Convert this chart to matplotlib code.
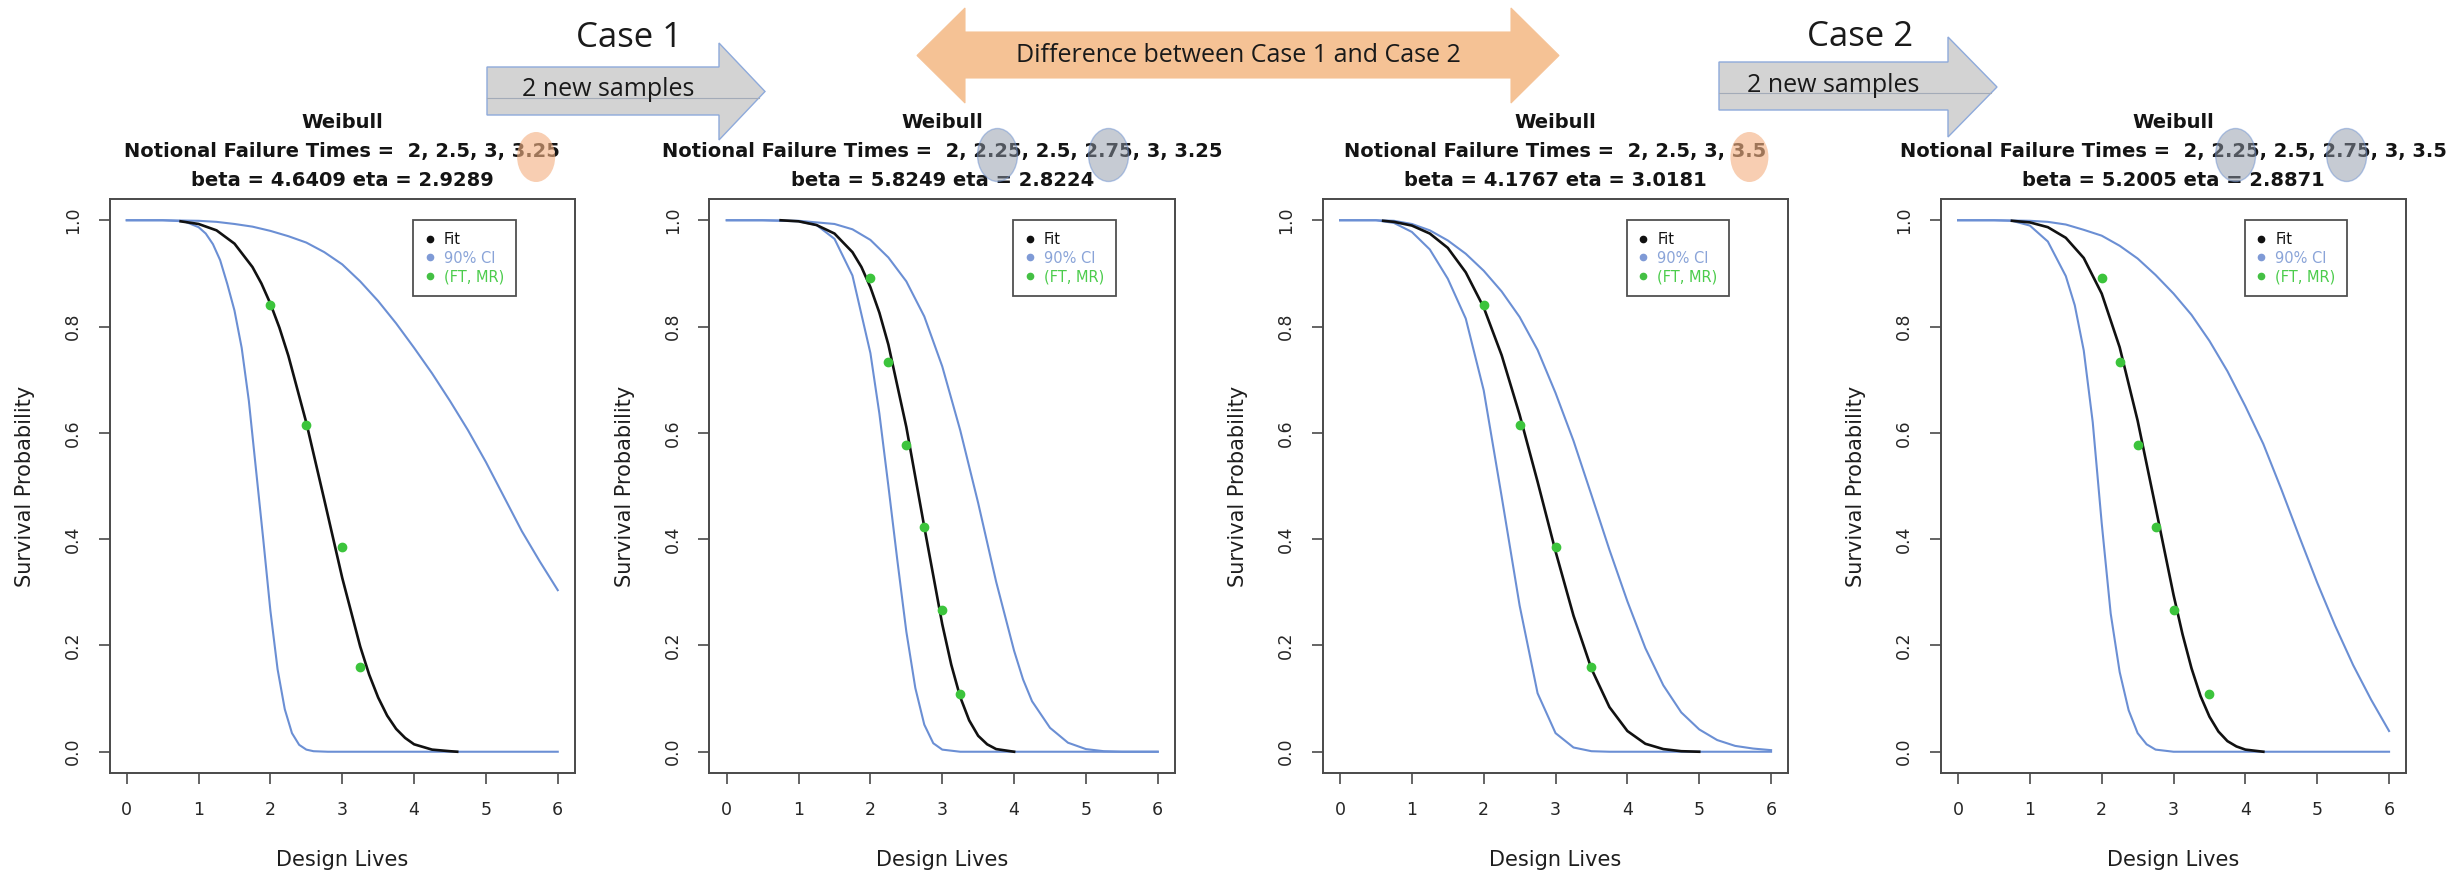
import matplotlib
matplotlib.use("Agg")
import matplotlib.pyplot as plt
from matplotlib.lines import Line2D
from matplotlib.patches import Polygon, Ellipse

plt.rcParams['font.family'] = ['DejaVu Sans']

W, H = 2450, 873

### Data ###

# Case 1, before the new samples
p1_fit_x = [0.75, 1.0, 1.25, 1.5, 1.75, 1.875, 2.0, 2.125, 2.25, 2.5, 2.75, 3.0, 3.25, 3.375, 3.5, 3.625, 3.75, 3.875, 4.0, 4.25, 4.5, 4.6]
p1_fit_s = [0.998, 0.993, 0.981, 0.956, 0.912, 0.881, 0.843, 0.798, 0.745, 0.619, 0.474, 0.327, 0.198, 0.145, 0.102, 0.068, 0.043, 0.026, 0.014, 0.004, 0.001, 0.0]
p1_lo_x = [0, 0.5, 0.8, 1.0, 1.1, 1.2, 1.3, 1.4, 1.5, 1.6, 1.7, 1.8, 1.9, 2.0, 2.1, 2.2, 2.3, 2.4, 2.5, 2.6, 2.8, 6.0]
p1_lo_s = [1.0, 1.0, 0.998, 0.987, 0.975, 0.955, 0.925, 0.88, 0.83, 0.76, 0.66, 0.53, 0.40, 0.265, 0.155, 0.08, 0.035, 0.013, 0.004, 0.001, 0.0, 0.0]
p1_hi_x = [0, 0.5, 1.0, 1.25, 1.5, 1.75, 2.0, 2.25, 2.5, 2.75, 3.0, 3.25, 3.5, 3.75, 4.0, 4.25, 4.5, 4.75, 5.0, 5.25, 5.5, 5.75, 6.0]
p1_hi_s = [1.0, 1.0, 0.999, 0.997, 0.993, 0.988, 0.98, 0.97, 0.958, 0.94, 0.917, 0.885, 0.848, 0.806, 0.76, 0.712, 0.66, 0.605, 0.545, 0.48, 0.415, 0.358, 0.304]
p1_ft = [2, 2.5, 3, 3.25]
p1_mr = [0.841, 0.614, 0.386, 0.159]

# Case 1, after 2 new samples
p2_fit_x = [0.75, 1.0, 1.25, 1.5, 1.75, 1.875, 2.0, 2.125, 2.25, 2.5, 2.75, 3.0, 3.125, 3.25, 3.375, 3.5, 3.625, 3.75, 4.0]
p2_fit_s = [1.0, 0.998, 0.991, 0.975, 0.94, 0.912, 0.874, 0.826, 0.766, 0.611, 0.423, 0.24, 0.164, 0.103, 0.059, 0.030, 0.014, 0.005, 0.0]
p2_lo_x = [0, 0.5, 1.0, 1.25, 1.5, 1.75, 2.0, 2.125, 2.25, 2.375, 2.5, 2.625, 2.75, 2.875, 3.0, 3.25, 6.0]
p2_lo_s = [1.0, 1.0, 0.998, 0.991, 0.965, 0.896, 0.75, 0.636, 0.50, 0.36, 0.226, 0.12, 0.051, 0.016, 0.004, 0.0, 0.0]
p2_hi_x = [0, 0.5, 1.0, 1.5, 1.75, 2.0, 2.25, 2.5, 2.75, 3.0, 3.25, 3.5, 3.75, 4.0, 4.125, 4.25, 4.5, 4.75, 5.0, 5.25, 5.5, 6.0]
p2_hi_s = [1.0, 1.0, 0.999, 0.993, 0.983, 0.963, 0.93, 0.885, 0.819, 0.725, 0.605, 0.468, 0.32, 0.19, 0.136, 0.095, 0.045, 0.017, 0.005, 0.001, 0.0, 0.0]
p2_ft = [2, 2.25, 2.5, 2.75, 3, 3.25]
p2_mr = [0.891, 0.734, 0.578, 0.422, 0.266, 0.109]

# Case 2, before the new samples
p3_fit_x = [0.6, 0.75, 1.0, 1.25, 1.5, 1.75, 2.0, 2.25, 2.5, 2.75, 3.0, 3.25, 3.5, 3.75, 4.0, 4.25, 4.5, 4.75, 5.0]
p3_fit_s = [0.999, 0.997, 0.990, 0.975, 0.948, 0.902, 0.836, 0.746, 0.634, 0.508, 0.377, 0.256, 0.156, 0.084, 0.039, 0.015, 0.005, 0.001, 0.0]
p3_lo_x = [0, 0.5, 0.75, 1.0, 1.25, 1.5, 1.75, 2.0, 2.25, 2.5, 2.75, 3.0, 3.25, 3.5, 3.75, 6.0]
p3_lo_s = [1.0, 1.0, 0.995, 0.978, 0.945, 0.89, 0.815, 0.68, 0.48, 0.275, 0.11, 0.035, 0.008, 0.001, 0.0, 0.0]
p3_hi_x = [0, 0.5, 0.75, 1.0, 1.25, 1.5, 1.75, 2.0, 2.25, 2.5, 2.75, 3.0, 3.25, 3.5, 3.75, 4.0, 4.25, 4.5, 4.75, 5.0, 5.25, 5.5, 5.75, 6.0]
p3_hi_s = [1.0, 1.0, 0.999, 0.993, 0.981, 0.962, 0.937, 0.905, 0.866, 0.818, 0.756, 0.675, 0.585, 0.483, 0.38, 0.283, 0.195, 0.125, 0.074, 0.042, 0.022, 0.011, 0.006, 0.003]
p3_ft = [2, 2.5, 3, 3.5]
p3_mr = [0.841, 0.614, 0.386, 0.159]

# Case 2, after 2 new samples
p4_fit_x = [0.75, 1.0, 1.25, 1.5, 1.75, 2.0, 2.25, 2.5, 2.75, 3.0, 3.125, 3.25, 3.375, 3.5, 3.625, 3.75, 3.875, 4.0, 4.25]
p4_fit_s = [0.999, 0.996, 0.987, 0.967, 0.929, 0.862, 0.761, 0.623, 0.460, 0.295, 0.221, 0.157, 0.105, 0.066, 0.038, 0.020, 0.010, 0.004, 0.0]
p4_lo_x = [0, 0.5, 0.75, 1.0, 1.25, 1.5, 1.625, 1.75, 1.875, 2.0, 2.125, 2.25, 2.375, 2.5, 2.625, 2.75, 3.0, 6.0]
p4_lo_s = [1.0, 1.0, 0.999, 0.99, 0.96, 0.895, 0.84, 0.755, 0.62, 0.43, 0.26, 0.15, 0.078, 0.035, 0.014, 0.004, 0.0, 0.0]
p4_hi_x = [0, 0.5, 1.0, 1.25, 1.5, 1.75, 2.0, 2.25, 2.5, 2.75, 3.0, 3.25, 3.5, 3.75, 4.0, 4.25, 4.5, 4.75, 5.0, 5.25, 5.5, 5.75, 6.0]
p4_hi_s = [1.0, 1.0, 0.999, 0.997, 0.992, 0.982, 0.971, 0.952, 0.928, 0.897, 0.862, 0.822, 0.773, 0.716, 0.65, 0.579, 0.494, 0.405, 0.318, 0.237, 0.163, 0.098, 0.039]
p4_ft = [2, 2.25, 2.5, 2.75, 3, 3.5]
p4_mr = [0.891, 0.734, 0.578, 0.422, 0.266, 0.109]

failure_lines = ["Notional Failure Times =  2, 2.5, 3, 3.25",
                 "Notional Failure Times =  2, 2.25, 2.5, 2.75, 3, 3.25",
                 "Notional Failure Times =  2, 2.5, 3, 3.5",
                 "Notional Failure Times =  2, 2.25, 2.5, 2.75, 3, 3.5"]
param_lines = ["beta = 4.6409 eta = 2.9289",
               "beta = 5.8249 eta = 2.8224",
               "beta = 4.1767 eta = 3.0181",
               "beta = 5.2005 eta = 2.8871"]
# which numbers are circled in each title, and in what colour
highlights = [[("3.25", "orange")],
              [("2.25", "grey"), ("2.75", "grey")],
              [("3.5", "orange")],
              [("2.25", "grey"), ("2.75", "grey")]]

x_ticks = [0, 1, 2, 3, 4, 5, 6]
y_ticks = [0.0, 0.2, 0.4, 0.6, 0.8, 1.0]
legend_labels = ["Fit", "90% CI", "(FT, MR)"]

panels = [
    (p1_fit_x, p1_fit_s, p1_lo_x, p1_lo_s, p1_hi_x, p1_hi_s, p1_ft, p1_mr),
    (p2_fit_x, p2_fit_s, p2_lo_x, p2_lo_s, p2_hi_x, p2_hi_s, p2_ft, p2_mr),
    (p3_fit_x, p3_fit_s, p3_lo_x, p3_lo_s, p3_hi_x, p3_hi_s, p3_ft, p3_mr),
    (p4_fit_x, p4_fit_s, p4_lo_x, p4_lo_s, p4_hi_x, p4_hi_s, p4_ft, p4_mr),
]

### Styling ###
CI_BLUE = '#6b8fd4'
FIT_BLACK = '#111111'
PT_GREEN = '#3cc43c'
FRAME = '#4a4a4a'

box_left_px = [109.5, 709.5, 1322.8, 1940.8]
box_w_px = 465.5
box_top_px, box_bot_px = 199, 773

fig = plt.figure(figsize=(W / 100, H / 100), dpi=100)

for i, (fx, fs, lx, ls, hx, hs, ft, mr) in enumerate(panels):
    ax = fig.add_axes([box_left_px[i] / W, 1 - box_bot_px / H,
                       box_w_px / W, (box_bot_px - box_top_px) / H])
    ax.plot(lx, ls, color=CI_BLUE, lw=1.5)
    ax.plot(hx, hs, color=CI_BLUE, lw=1.5)
    ax.plot(fx, fs, color=FIT_BLACK, lw=1.9)
    ax.plot(ft, mr, ls='none', marker='o', ms=6, color=PT_GREEN, mec=PT_GREEN)

    ax.set_xlim(-0.24, 6.24)
    ax.set_ylim(-0.04, 1.04)
    ax.set_xticks(x_ticks)
    ax.set_xticklabels([str(t) for t in x_ticks])
    ax.set_yticks(y_ticks)
    ax.set_yticklabels([f"{t:.1f}" for t in y_ticks])
    ax.tick_params(direction='out', length=8, width=1.2, colors=FRAME,
                   labelcolor='#262626', labelsize=12.5, pad=12)
    ax.tick_params(axis='y', labelrotation=90)
    for lab in ax.get_yticklabels():
        lab.set_verticalalignment('center')
    for sp in ax.spines.values():
        sp.set_color(FRAME)
        sp.set_linewidth(1.4)

    ax.set_xlabel("Design Lives", fontsize=15, color='#1e1e1e')
    ax.xaxis.set_label_coords(0.5, -(860 - box_bot_px) / (box_bot_px - box_top_px))
    ax.xaxis.label.set_verticalalignment('center')
    ax.set_ylabel("Survival Probability", fontsize=15, color='#1e1e1e')
    ax.yaxis.set_label_coords(-84.5 / box_w_px, 0.5)
    ax.yaxis.label.set_verticalalignment('center')

    handles = [Line2D([], [], ls='none', marker='o', ms=4.5, color=FIT_BLACK),
               Line2D([], [], ls='none', marker='o', ms=4.5, color='#7f9ad6'),
               Line2D([], [], ls='none', marker='o', ms=4.5, color='#44c044')]
    leg = ax.legend(handles, legend_labels, loc='upper left', bbox_to_anchor=(3.99, 1.0),
                    bbox_transform=ax.transData, borderaxespad=0, fontsize=10.5,
                    fancybox=False, framealpha=1, edgecolor='#505050',
                    handlelength=0.7, handletextpad=0.6, borderpad=0.8, labelspacing=0.25)
    leg.get_frame().set_linewidth(1.3)
    for txt, c in zip(leg.get_texts(), ['#111111', '#8aa4d8', '#4ccc4c']):
        txt.set_color(c)

### Header: titles, circled numbers, block arrows ###
top = fig.add_axes([0, 0, 1, 1], zorder=10)
top.set_xlim(0, W)
top.set_ylim(H, 0)
top.axis('off')
top.patch.set_alpha(0)

fig.canvas.draw()
renderer = fig.canvas.get_renderer()


def text_width(s, **kw):
    t = top.text(0, 0, s, **kw)
    w = t.get_window_extent(renderer).width
    t.remove()
    return w


title_kw = dict(fontsize=14, fontweight='bold', color='#141414', ha='center', va='center')
for i in range(4):
    cx = box_left_px[i] + box_w_px / 2
    top.text(cx, 123, "Weibull", **title_kw)
    line = top.text(cx, 152, failure_lines[i], **title_kw)
    top.text(cx, 180, param_lines[i], **title_kw)

    x0 = line.get_window_extent(renderer).x0
    for token, kind in highlights[i]:
        s = failure_lines[i]
        idx = s.rfind(token) if kind == "orange" else s.find(token)
        w_pre = text_width(s[:idx + len(token)], fontsize=14, fontweight='bold')
        w_tok = text_width(token, fontsize=14, fontweight='bold')
        ex = x0 + w_pre - w_tok / 2
        if kind == "orange":
            top.add_patch(Ellipse((ex, 157), 38, 50, facecolor='#f4b183', edgecolor='none',
                                  alpha=0.62, zorder=5))
        else:
            top.add_patch(Ellipse((ex, 155), 40, 53, facecolor='#8f99a8', edgecolor='#6f93d2',
                                  lw=1.0, alpha=0.5, zorder=5))

hdr = dict(family='Open Sans', color='#1a1a1a', ha='center', va='center')

# grey arrows, "2 new samples"
for bx0, hb, tip, yt, yb, ht, hbm, tx, ty in [(487, 719, 765, 67, 115, 43, 140, 608, 90),
                                              (1719, 1948, 1997, 62, 110, 37, 137, 1833, 85)]:
    top.add_patch(Polygon([(bx0, yt), (hb, yt), (hb, ht), (tip, (ht + hbm) / 2), (hb, hbm),
                           (hb, yb), (bx0, yb)], closed=True, facecolor='#d3d3d3',
                          edgecolor='#8eaadb', lw=1.0, zorder=2))
    top.plot([bx0, tip - 6], [ty + 8, ty + 8], color='#a3abb8', lw=0.8, zorder=3)
    top.text(tx, ty, "2 new samples", fontsize=18, zorder=4, **hdr)

top.text(629, 38, "Case 1", fontsize=25, **hdr)
top.text(1860, 37, "Case 2", fontsize=25, **hdr)

# orange double arrow
top.add_patch(Polygon([(917, 55.5), (965, 8), (965, 32), (1511, 32), (1511, 8), (1559, 55.5),
                       (1511, 103), (1511, 78), (965, 78), (965, 103)], closed=True,
                      facecolor='#f5c295', edgecolor='#f5c295', lw=0.8, zorder=2))
top.text(1238, 56, "Difference between Case 1 and Case 2", fontsize=18, zorder=4, **hdr)

fig.savefig("out.png", dpi=100)
